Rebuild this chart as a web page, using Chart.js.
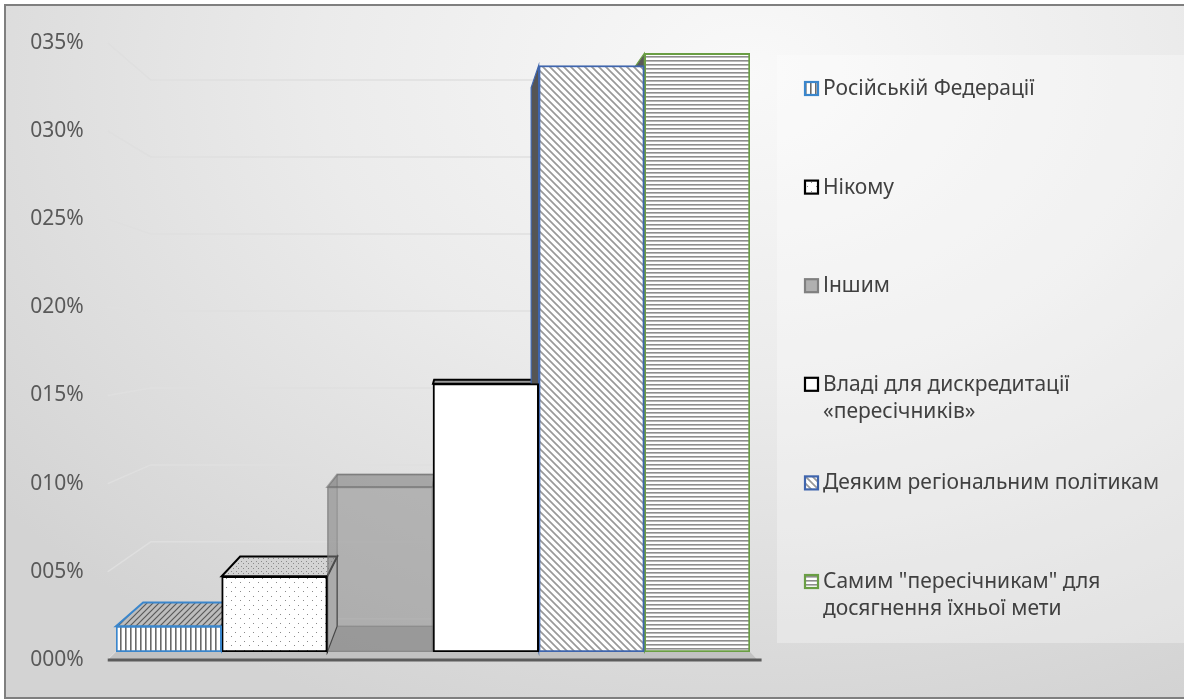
<!DOCTYPE html>
<html lang="uk">
<head>
<meta charset="UTF-8">
<title>Кому вигідно</title>
<script src="https://cdn.jsdelivr.net/npm/chart.js@4.4.0/dist/chart.umd.min.js"></script>
<style>
    html, body { margin: 0; padding: 0; width: 1184px; height: 699px; overflow: hidden; background: #fff; }
    .chart-frame {
        position: absolute; left: 4px; top: 4px; width: 1200px; height: 695px;
        box-sizing: border-box; border: 2px solid #7f7f7f;
        background: radial-gradient(ellipse 80% 100% at 62% 10%, #f9f9f9 0%, #ebebeb 45%, #d3d3d3 100%);
    }
    .chart-box { position: absolute; left: 0; top: 0; width: 1184px; height: 699px; }
</style>
</head>
<body>
<div class="chart-frame"></div>
<div class="chart-box"><canvas id="shareChart"></canvas></div>
<script>
// Варіанти відповіді
const seriesNames = [
    'Російській Федерації',
    'Нікому',
    'Іншим',
    'Владі для дискредитації «пересічників»',
    'Деяким регіональним політикам',
    'Самим "пересічникам" для досягнення їхньої мети'
];
// Частка відповідей, %
const shares = [1.5, 4.4, 9.6, 15.6, 34.1, 34.8];
// Поділки осі Y
const tickValues = [0, 5, 10, 15, 20, 25, 30, 35];
const tickLabels = ['000%', '005%', '010%', '015%', '020%', '025%', '030%', '035%'];

const FONT = '"Noto Sans", "DejaVu Sans", sans-serif';

// Перспектива: точка сходу і коефіцієнти глибини
const VP = { x: 447, y: 336 };
const DEPTH = 0.918;   // задня грань стовпчика
const FRONT = 1.025;   // передній край підлоги / підписи осі
const WALL = 0.895;    // задня стінка

function proj(x, y, k) {
    return { x: VP.x + (x - VP.x) * k, y: VP.y + (y - VP.y) * k };
}

const canvas = document.getElementById('shareChart');
const ctx0 = canvas.getContext('2d');

// Штрихування для стовпчиків
function makePattern(size, bg, draw) {
    const tile = document.createElement('canvas');
    tile.width = tile.height = size;
    const g = tile.getContext('2d');
    g.fillStyle = bg;
    g.fillRect(0, 0, size, size);
    draw(g, size);
    return ctx0.createPattern(tile, 'repeat');
}

const patVertical = makePattern(5, '#ffffff', (g, s) => {
    g.fillStyle = '#6a6a6a';
    g.fillRect(0, 0, 1.6, s);
});
const patVerticalTop = makePattern(6, '#bdbdbd', (g, s) => {
    g.strokeStyle = '#5a5a5a';
    g.lineWidth = 1.2;
    g.beginPath();
    g.moveTo(0, s); g.lineTo(s, 0);
    g.moveTo(-1, 1); g.lineTo(1, -1);
    g.moveTo(s - 1, s + 1); g.lineTo(s + 1, s - 1);
    g.stroke();
});
const patDots = makePattern(9, '#ffffff', (g) => {
    g.fillStyle = '#8a8a8a';
    g.fillRect(1, 2, 1, 1);
    g.fillRect(6, 6, 1, 1);
});
const patDotsTop = makePattern(5, '#d4d4d4', (g) => {
    g.fillStyle = '#8a8a8a';
    g.fillRect(1, 1, 1, 1);
    g.fillRect(3, 3, 1, 1);
});
const patDiagonal = makePattern(7, '#ffffff', (g, s) => {
    g.strokeStyle = '#999999';
    g.lineWidth = 1.7;
    g.beginPath();
    g.moveTo(0, 0); g.lineTo(s, s);
    g.moveTo(-s, 0); g.lineTo(s, 2 * s);
    g.moveTo(0, -s); g.lineTo(2 * s, s);
    g.stroke();
});
const patHorizontal = makePattern(4, '#ffffff', (g, s) => {
    g.fillStyle = '#8e8e8e';
    g.fillRect(0, 0, s, 1.6);
});

// Оформлення кожного стовпчика: передня грань, бічні/верхня грані
const barStyles = [
    { fill: patVertical, border: '#3a86cc', face: patVerticalTop, side: '#9a9a9a' },
    { fill: patDots, border: '#000000', face: patDotsTop, side: '#e8e8e8' },
    { fill: 'rgba(125,125,125,0.45)', border: 'rgba(110,110,110,0.55)', face: 'rgba(95,95,95,0.45)', side: 'rgba(140,140,140,0.25)', glass: true },
    { fill: '#ffffff', border: '#000000', face: '#9a9a9a', side: '#d0d0d0' },
    { fill: patDiagonal, border: '#3f65ad', face: '#8a8a8a', side: '#555555' },
    { fill: patHorizontal, border: '#6a9e44', face: '#8a8a8a', side: '#5a5a5a' }
];

function facePath(ctx, pts) {
    ctx.beginPath();
    ctx.moveTo(pts[0].x, pts[0].y);
    for (let i = 1; i < pts.length; i++) ctx.lineTo(pts[i].x, pts[i].y);
    ctx.closePath();
}

const scene3d = {
    id: 'scene3d',
    beforeDatasetsDraw(chart) {
        const { ctx, chartArea: a, scales: { y } } = chart;
        ctx.save();

        // Підкладка легенди
        ctx.fillStyle = 'rgba(255,255,255,0.3)';
        ctx.fillRect(777, 55, 420, 588);

        // Лінії сітки на бічній і задній стінках
        ctx.strokeStyle = '#dfdfdf';
        ctx.lineWidth = 1.5;
        tickValues.forEach(v => {
            const p = y.getPixelForValue(v);
            const f = proj(a.left, p, FRONT);
            const b = proj(a.left, p, WALL);
            const br = proj(a.right, p, WALL);
            ctx.beginPath();
            ctx.moveTo(f.x, f.y);
            ctx.lineTo(b.x, b.y);
            ctx.lineTo(br.x, br.y);
            ctx.stroke();
        });

        // Підлога
        const base = y.getPixelForValue(0);
        const fl = proj(a.left, base, FRONT), fr = proj(a.right, base, FRONT);
        ctx.fillStyle = '#c2c2c2';
        facePath(ctx, [{ x: a.left, y: base }, { x: a.right, y: base }, fr, fl]);
        ctx.fill();
        ctx.strokeStyle = '#5c5c5c';
        ctx.lineWidth = 3;
        ctx.beginPath();
        ctx.moveTo(fl.x, fl.y);
        ctx.lineTo(fr.x + 4, fr.y);
        ctx.stroke();

        // Об'ємні грані стовпчиків
        chart.data.datasets.forEach((ds, i) => {
            const st = barStyles[i];
            const bar = chart.getDatasetMeta(i).data[0];
            const { x, y: yT, base: yB, width } = bar.getProps(['x', 'y', 'base', 'width'], true);
            const x0 = x - width / 2, x1 = x + width / 2;
            const ft0 = { x: x0, y: yT }, ft1 = { x: x1, y: yT };
            const fb0 = { x: x0, y: yB }, fb1 = { x: x1, y: yB };
            const bt0 = proj(x0, yT, DEPTH), bt1 = proj(x1, yT, DEPTH);
            const bb0 = proj(x0, yB, DEPTH), bb1 = proj(x1, yB, DEPTH);
            ctx.strokeStyle = st.border;

            if (st.glass) {
                // напівпрозорий стовпчик: видно дно і задню грань
                ctx.fillStyle = 'rgba(90,90,90,0.3)';
                facePath(ctx, [fb0, fb1, bb1, bb0]);
                ctx.fill();
                ctx.fillStyle = st.side;
                facePath(ctx, [ft0, bt0, bb0, fb0]);
                ctx.fill();
                ctx.lineWidth = 1;
                ctx.strokeStyle = 'rgba(90,90,90,0.45)';
                facePath(ctx, [bt0, bt1, bb1, bb0]);
                ctx.stroke();
                ctx.strokeStyle = st.border;
            }
            ctx.lineWidth = 1.2;
            if (x1 < VP.x) {
                ctx.fillStyle = st.side;
                facePath(ctx, [ft1, bt1, bb1, fb1]);
                ctx.fill();
                ctx.stroke();
            }
            if (x0 > VP.x) {
                ctx.fillStyle = st.side;
                facePath(ctx, [ft0, bt0, bb0, fb0]);
                ctx.fill();
                ctx.stroke();
            }
            ctx.lineWidth = 2;
            if (yT > VP.y) {
                ctx.fillStyle = st.face;
                facePath(ctx, [ft0, ft1, bt1, bt0]);
                ctx.fill();
                ctx.stroke();
            }
        });
        ctx.restore();
    },
    afterDraw(chart) {
        const { ctx, chartArea: a, scales: { y } } = chart;
        ctx.save();

        // Підписи осі Y
        ctx.font = '21px ' + FONT;
        ctx.fillStyle = '#595959';
        ctx.textAlign = 'right';
        ctx.textBaseline = 'middle';
        tickValues.forEach((v, i) => {
            const f = proj(a.left, y.getPixelForValue(v), FRONT);
            ctx.fillText(tickLabels[i], f.x - 24, f.y);
        });

        // Легенда праворуч
        ctx.textAlign = 'left';
        const maxW = 350;
        chart.data.datasets.forEach((ds, i) => {
            const st = barStyles[i];
            const cy = 89 + i * 98.6;
            ctx.fillStyle = st.glass ? '#b0b0b0' : st.fill;
            ctx.fillRect(805, cy - 7, 13, 13);
            ctx.lineWidth = 2.2;
            ctx.strokeStyle = st.glass ? '#808080' : st.border;
            ctx.strokeRect(805, cy - 7, 13, 13);

            const words = ds.label.split(' ');
            const lines = [];
            let line = '';
            words.forEach(w => {
                const test = line ? line + ' ' + w : w;
                if (ctx.measureText(test).width > maxW && line) {
                    lines.push(line);
                    line = w;
                } else {
                    line = test;
                }
            });
            lines.push(line);
            ctx.fillStyle = '#404040';
            lines.forEach((ln, j) => ctx.fillText(ln, 823, cy + j * 27));
        });
        ctx.restore();
    }
};

new Chart(canvas, {
    type: 'bar',
    data: {
        labels: [''],
        datasets: seriesNames.map((name, i) => ({
            label: name,
            data: [shares[i]],
            backgroundColor: barStyles[i].fill,
            borderColor: barStyles[i].border,
            borderWidth: barStyles[i].glass ? 1 : 2,
            borderSkipped: false,
            categoryPercentage: 1,
            barPercentage: 1
        }))
    },
    options: {
        responsive: true,
        maintainAspectRatio: false,
        animation: false,
        layout: {
            padding: { left: 116, right: 434, top: 50, bottom: 47 }
        },
        plugins: {
            legend: { display: false },
            tooltip: { enabled: false }
        },
        scales: {
            x: { display: false },
            y: { display: false, min: 0, max: 35 }
        }
    },
    plugins: [scene3d]
});
</script>
</body>
</html>
